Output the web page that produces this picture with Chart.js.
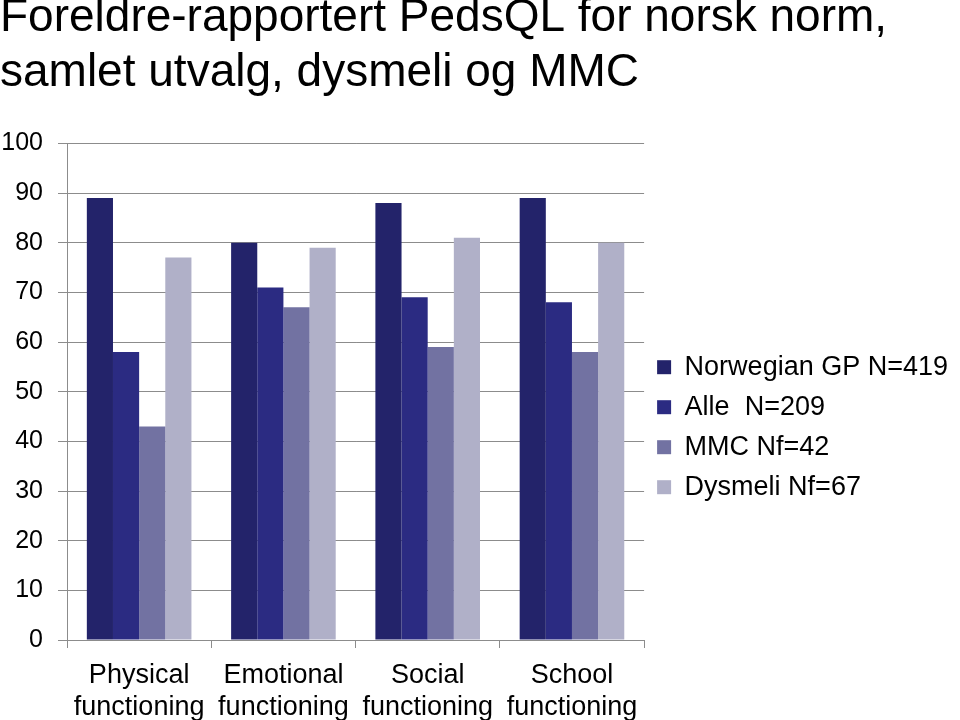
<!DOCTYPE html>
<html>
<head>
<meta charset="utf-8">
<script src="https://cdn.jsdelivr.net/npm/chart.js@4/dist/chart.umd.min.js"></script>
<style>
  html, body { margin: 0; padding: 0; background: #fff; }
  #wrap { width: 960px; height: 720px; position: relative; }
</style>
</head>
<body>
<div id="wrap"><canvas id="chart"></canvas></div>
<script>
// PedsQL parent report, Norwegian norm vs sample groups
const categories = [
    ['Physical', 'functioning'],
    ['Emotional', 'functioning'],
    ['Social', 'functioning'],
    ['School', 'functioning']
];
const seriesNames = ['Norwegian GP N=419', 'Alle  N=209', 'MMC Nf=42', 'Dysmeli Nf=67'];
const norwegianGP = [89, 80, 88, 89];
const alle = [58, 71, 69, 68];
const mmc = [43, 67, 59, 58];
const dysmeli = [77, 79, 81, 80];
const colors = ['#23236a', '#2b2b82', '#7272a2', '#b0b0c8'];

const font = '"Liberation Sans", Arial, sans-serif';

const ctx = document.getElementById('chart').getContext('2d');
new Chart(ctx, {
    type: 'bar',
    data: {
        labels: categories,
        datasets: [norwegianGP, alle, mmc, dysmeli].map((d, i) => ({
            label: seriesNames[i],
            data: d,
            backgroundColor: colors[i],
            borderWidth: 0,
            categoryPercentage: 0.725,
            barPercentage: 1.0
        }))
    },
    options: {
        responsive: true,
        maintainAspectRatio: false,
        animation: false,
        layout: { padding: { left: 0, right: 2, top: 0, bottom: 0 } },
        scales: {
            x: {
                grid: {
                    drawOnChartArea: false,
                    drawTicks: true,
                    tickLength: 8,
                    color: '#8c8c8c'
                },
                border: { color: '#8c8c8c' },
                ticks: {
                    color: '#000',
                    font: { family: font, size: 27, lineHeight: 1.17 },
                    padding: 12,
                    maxRotation: 0,
                    autoSkip: false
                },
                afterFit: (scale) => { scale.height = 80; }
            },
            y: {
                min: 0,
                max: 100,
                ticks: {
                    stepSize: 10,
                    color: '#000',
                    font: { family: font, size: 25 },
                    padding: 15
                },
                grid: { color: '#8c8c8c', tickLength: 9 },
                border: { color: '#8c8c8c' },
                afterFit: (scale) => { scale.width = 67; }
            }
        },
        plugins: {
            title: {
                display: true,
                text: ['Foreldre-rapportert PedsQL for norsk norm,', 'samlet utvalg, dysmeli og MMC'],
                align: 'start',
                color: '#000',
                font: { family: font, size: 46, weight: 'normal', lineHeight: 1.2 },
                padding: { top: -9, bottom: 42 }
            },
            legend: {
                position: 'right',
                maxWidth: 330,
                title: {
                    display: true,
                    text: ' ',
                    font: { size: 12 },
                    padding: 60
                },
                labels: {
                    color: '#000',
                    font: { family: font, size: 27 },
                    boxWidth: 14,
                    boxHeight: 14,
                    padding: 13
                }
            },
            tooltip: { enabled: false }
        }
    }
});
</script>
</body>
</html>
